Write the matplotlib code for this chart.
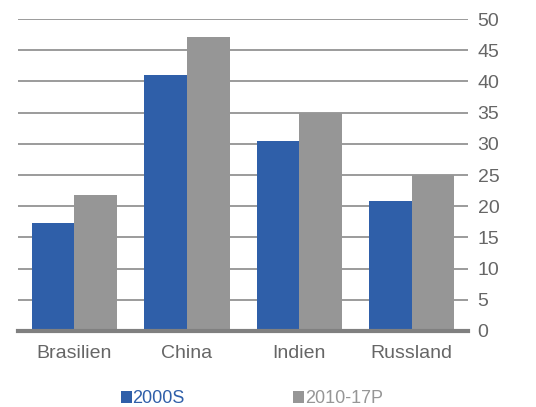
import matplotlib.pyplot as plt
import numpy as np

plt.rcParams['font.family'] = ['Liberation Sans', 'DejaVu Sans']

countries = ['Brasilien', 'China', 'Indien', 'Russland']
s2000 = [17.3, 41.0, 30.5, 20.8]
s2010 = [21.8, 47.2, 34.9, 25.0]
series_labels = ['2000S', '2010-17P']
blue = '#2f5fa9'
grey = '#969696'

fig = plt.figure(figsize=(5.36, 4.07), dpi=100)
ax = fig.add_axes([0.034, 0.187, 0.839, 0.766])

x = np.arange(len(countries))
w = 0.38
b1 = ax.bar(x - w / 2, s2000, w, color=blue, label=series_labels[0], zorder=3)
b2 = ax.bar(x + w / 2, s2010, w, color=grey, label=series_labels[1], zorder=3)

ax.set_xlim(-0.5, 3.5)
ax.set_ylim(0, 50)
ax.set_yticks(np.arange(0, 51, 5))
ax.yaxis.tick_right()
ax.set_xticks(x)
ax.set_xticklabels(countries)
ax.tick_params(axis='y', length=0, pad=7, labelsize=14, labelcolor='#666666')
ax.tick_params(axis='x', length=0, pad=10, labelsize=14, labelcolor='#666666')

ax.grid(axis='y', color='#8a8a8a', linewidth=1.2, zorder=0)
for s in ['top', 'left', 'right']:
    ax.spines[s].set_visible(False)
ax.spines['bottom'].set_color('#808080')
ax.spines['bottom'].set_linewidth(3)
ax.spines['bottom'].set_zorder(4)

fig.legend(handles=[b1, b2], loc='center', bbox_to_anchor=(0.47, 0.02),
           ncol=2, frameon=False, fontsize=13, handlelength=0.6, handleheight=0.6,
           handletextpad=0.05, columnspacing=6.0, labelcolor='linecolor')

plt.savefig('out.png', dpi=100)
